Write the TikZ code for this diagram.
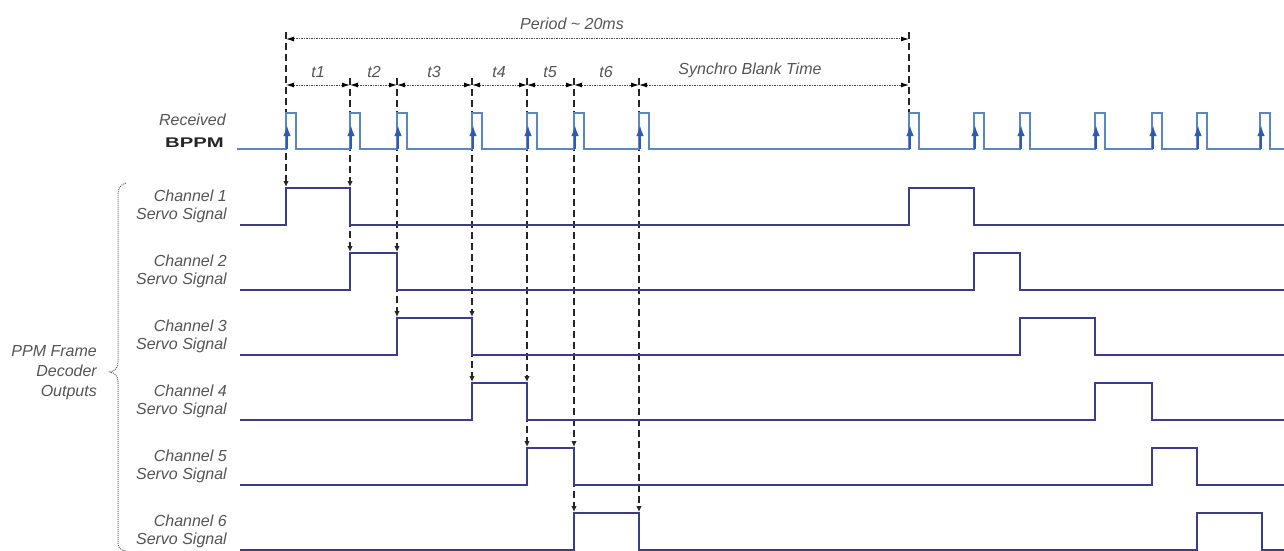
\documentclass[tikz,border=0pt]{standalone}
\usepackage{fontspec}
\usepackage{graphicx}
\setmainfont{Liberation Sans}
\usetikzlibrary{arrows.meta}
\definecolor{txt}{HTML}{555555}
\definecolor{sig}{HTML}{3C3C88}
\definecolor{bppm}{HTML}{5B86C0}
\definecolor{arr}{HTML}{2F5AAE}
\begin{document}
\begin{tikzpicture}[x=1pt,y=-1pt,
  lbl/.style={font=\itshape\fontsize{16}{18}\selectfont, text=txt, inner sep=0pt},
  sigline/.style={draw=sig, line width=2.2pt, line join=miter},
  pulse/.style={draw=bppm, line width=1.8pt},
  uparr/.style={draw=arr, line width=2pt, -{Latex[length=11pt,width=7.5pt]}},
  vdash/.style={draw=black!85, line width=1.1pt, dash pattern=on 7pt off 4pt},
  vdarrow/.style={vdash, -{Latex[length=6pt,width=5.5pt]}},
  dim/.style={draw=black!70, line width=1pt, dash pattern=on 1.5pt off 1pt,
    {Latex[length=8pt,width=5pt,black]}-{Latex[length=8pt,width=5pt,black]}},
]
\useasboundingbox (0,0) rectangle (1284,551);
\fill[white] (0,0) rectangle (1284,551);

% ---- period and interval dimensions
\draw[dim] (286,39) -- (909,39);
\node[lbl] (period) at (572,24) {Period \~{} 20ms};
\foreach \a/\b/\t/\c in {286/350/t1/318, 350/397/t2/374, 397/472/t3/434, 472/527/t4/499,
    527/574/t5/550, 574/639/t6/606}{
  \draw[dim] (\a,85) -- (\b,85);
  \node[lbl] (lab-\t) at (\c,72) {\t};
}
\draw[dim] (639,85) -- (909,85);
\node[lbl] (sync) at (750,70) {Synchro Blank Time};

% ---- dashed guides
\draw[vdarrow] (286,32) -- (286,187);
\draw[vdarrow] (350,78) -- (350,187);
\draw[vdarrow] (350,187) -- (350,252);
\draw[vdarrow] (397,78) -- (397,252);
\draw[vdarrow] (397,252) -- (397,317);
\draw[vdarrow] (472,78) -- (472,317);
\draw[vdarrow] (472,317) -- (472,382);
\draw[vdarrow] (527,78) -- (527,382);
\draw[vdarrow] (527,382) -- (527,447);
\draw[vdarrow] (574,78) -- (574,447);
\draw[vdarrow] (574,447) -- (574,512);
\draw[vdarrow] (639,78) -- (639,512);
\draw[vdash] (909,32) -- (909,112);

% ---- received BPPM
\node[lbl, anchor=east] (recv) at (226,120) {Received};
\node[inner sep=0pt, anchor=east, text=black!85, font=\bfseries\fontsize{14}{16}\selectfont] (bppmlbl) at (224,143) {\scalebox{1.45}[1]{BPPM}};
\draw[pulse] (237,149) -| (286,113) -| (296,149) -| (350,113) -| (360,149)
  -| (397,113) -| (407,149) -| (472,113) -| (482,149) -| (527,113) -| (537,149)
  -| (574,113) -| (584,149) -| (639,113) -| (649,149) -| (909,113) -| (919,149)
  -| (974,113) -| (984,149) -| (1020,113) -| (1030,149) -| (1095,113) -| (1105,149)
  -| (1152,113) -| (1162,149) -| (1197,113) -| (1207,149) -| (1260,113) -| (1270,149)
  -- (1284,149);
\foreach \x in {286,350,397,472,527,574,639,909,974,1020,1095,1152,1197,1260}{
  \draw[uparr] (\x+1,149) -- (\x+1,125);
}

% ---- channel outputs
\foreach \k/\a/\b/\A/\B in {1/286/350/909/974, 2/350/397/974/1020, 3/397/472/1020/1095,
    4/472/527/1095/1152, 5/527/574/1152/1197, 6/574/639/1197/1262}{
  \pgfmathsetmacro{\h}{188+65*(\k-1)}
  \pgfmathsetmacro{\l}{225+65*(\k-1)}
  \pgfmathsetmacro{\m}{206+65*(\k-1)}
  \draw[sigline] (240,\l) -| (\a,\h) -| (\b,\l) -| (\A,\h) -| (\B,\l) -- (1284,\l);
  \node[lbl, align=right, anchor=east] (ch\k) at (227,\m) {Channel \k\\Servo Signal};
}

% ---- brace and group label
\draw[black!60, line width=1pt, dash pattern=on 1pt off 1pt]
  (126,183) .. controls (120,185) and (118,188) .. (118,195) -- (118,362)
  .. controls (118,368) and (115,371) .. (110,372)
  .. controls (115,373) and (118,376) .. (118,382) -- (118,543)
  .. controls (118,548) and (120,550) .. (126,551);
\node[lbl, align=right, anchor=east, font=\itshape\fontsize{16}{20}\selectfont] (ppm) at (97,373) {PPM Frame\\Decoder\\Outputs};
\end{tikzpicture}
\end{document}
